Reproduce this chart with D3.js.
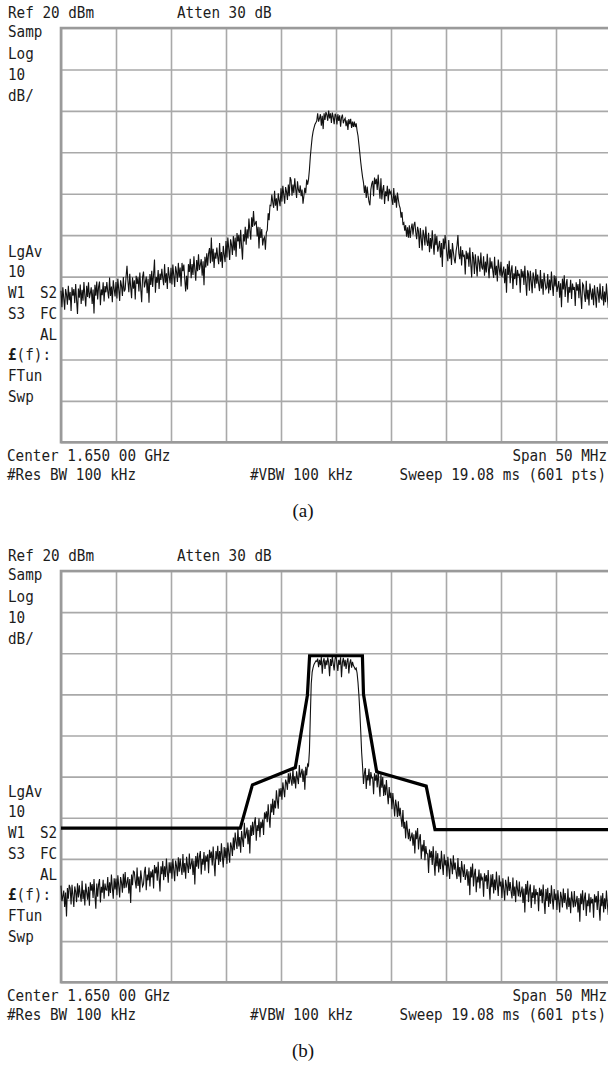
<!DOCTYPE html>
<html><head><meta charset="utf-8">
<script src="https://cdn.jsdelivr.net/npm/d3@7/dist/d3.min.js"></script>
<style>
html,body{margin:0;padding:0;background:#fff;}
svg{display:block;}
.mono{font-family:"DejaVu Sans Mono","Liberation Mono",monospace;font-size:14.3px;fill:#1c1c1c;}
.cap{font-family:"Liberation Serif","Times New Roman",serif;font-size:19px;fill:#111;}
</style>
</head><body>
<script>
// ---------- DATA ----------
const sweepStart = 1625, sweepStop = 1675;           // MHz (Center 1.650 GHz, Span 50 MHz)
const refLevel = 20, bottomLevel = -80;               // dBm, 10 dB/div
const freqTicks = [1625,1630,1635,1640,1645,1650,1655,1660,1665,1670,1675];
const levelTicks = [-80,-70,-60,-50,-40,-30,-20,-10,0,10,20];

// (a) measured spectrum, 601 pts, dBm
const traceA = [
-43.4,-47.4,-42.6,-45.2,-48.0,-43.0,-44.3,-46.8,-42.2,-45.7,
-43.7,-48.3,-42.6,-44.6,-43.0,-46.4,-41.8,-45.7,-49.0,-42.9,
-45.1,-41.9,-46.6,-43.2,-45.8,-41.3,-44.5,-47.2,-42.2,-44.9,
-41.4,-45.2,-44.0,-42.6,-46.6,-43.1,-48.9,-42.0,-44.6,-41.2,
-45.5,-42.5,-41.2,-46.9,-43.1,-44.5,-41.4,-46.0,-42.3,-43.8,
-41.3,-43.6,-45.3,-40.2,-44.7,-42.4,-46.2,-40.9,-43.0,-44.8,
-41.3,-45.3,-40.5,-43.1,-45.9,-40.9,-42.2,-44.7,-40.1,-43.6,
-43.1,-39.9,-37.4,-41.2,-43.8,-39.3,-42.5,-45.2,-40.2,-42.9,
-40.9,-45.5,-39.8,-41.8,-40.2,-43.6,-39.0,-42.9,-46.2,-40.1,
-38.8,-42.6,-41.4,-40.0,-44.0,-40.5,-46.3,-39.4,-42.0,-38.6,
-42.5,-39.5,-35.9,-43.9,-40.1,-41.5,-38.4,-43.0,-39.3,-40.8,
-38.1,-40.4,-42.1,-37.0,-41.5,-39.2,-43.0,-37.7,-39.8,-41.6,
-37.9,-41.9,-37.1,-39.7,-42.5,-37.5,-38.8,-41.3,-36.7,-40.2,
-37.8,-42.4,-36.7,-38.7,-37.1,-40.5,-43.6,-39.8,-43.1,-37.0,
-38.9,-35.7,-40.4,-37.0,-39.6,-35.1,-38.3,-41.0,-36.0,-38.7,
-34.6,-38.4,-37.2,-35.8,-39.8,-36.3,-42.1,-35.2,-37.8,-34.4,
-37.4,-34.4,-33.1,-36.8,-30.6,-36.4,-33.3,-37.9,-34.2,-35.7,
-33.0,-35.3,-37.0,-31.9,-36.4,-34.1,-37.9,-32.6,-34.7,-36.5,
-31.4,-35.4,-30.6,-33.2,-36.0,-31.0,-32.3,-34.8,-30.2,-33.7,
-30.6,-35.2,-29.5,-31.5,-29.9,-33.3,-28.7,-32.6,-35.9,-29.8,
-31.5,-28.0,-32.3,-28.6,-30.8,-26.0,-28.8,-31.1,-25.7,-28.0,
-24.2,-27.7,-27.2,-26.6,-30.3,-28.0,-33.2,-28.1,-30.7,-28.5,
-32.5,-30.9,-30.5,-33.5,-29.4,-28.8,-24.7,-26.4,-22.8,-22.9,
-20.2,-22.1,-23.4,-19.3,-22.9,-21.1,-24.1,-19.9,-21.6,-23.0,
-18.7,-21.9,-18.1,-20.2,-22.4,-18.4,-19.5,-21.5,-17.8,-20.6,
-16.0,-16.7,-20.5,-17.8,-19.9,-16.3,-18.8,-21.0,-17.0,-19.1,
-19.8,-18.0,-20.6,-19.0,-22.4,-20.5,-18.6,-19.9,-16.6,-17.8,
-16.6,-14.2,-11.0,-8.6,-6.4,-5.0,-4.1,-3.3,-2.9,-2.4,
-0.6,-2.6,-1.8,-0.8,-3.6,-1.2,-4.4,-0.6,-2.2,-0.3,
-0.9,-2.4,0.1,-1.8,-0.6,-2.9,-0.4,-1.5,-3.2,-0.7,
-1.2,-3.3,-0.8,-2.4,-1.1,-3.8,-1.6,-0.9,-3.0,-2.2,
-1.8,-3.7,-2.3,-4.6,-2.0,-3.2,-1.9,-4.1,-2.6,-3.9,
-2.6,-3.9,-3.0,-4.8,-6.0,-8.1,-10.2,-12.4,-14.3,-16.0,
-17.3,-19.8,-18.0,-21.0,-18.3,-20.4,-22.0,-22.8,-19.0,-17.6,
-16.9,-20.6,-16.1,-17.7,-16.4,-19.1,-15.4,-18.5,-21.2,-16.3,
-21.4,-19.0,-17.9,-22.5,-19.4,-20.6,-18.1,-21.8,-18.8,-20.0,
-19.5,-21.4,-22.7,-18.6,-22.2,-20.4,-23.4,-19.7,-21.4,-22.8,
-23.5,-25.8,-24.4,-27.3,-27.0,-28.9,-27.6,-30.4,-28.1,-30.6,
-27.6,-30.7,-28.4,-27.2,-29.9,-27.6,-26.8,-29.3,-31.0,-28.0,
-29.1,-33.1,-28.3,-30.9,-33.7,-28.7,-30.0,-32.5,-27.9,-31.4,
-32.6,-29.4,-34.1,-30.7,-33.3,-28.8,-32.0,-34.7,-29.7,-32.4,
-30.2,-34.0,-32.8,-31.4,-35.4,-31.9,-37.7,-30.8,-33.4,-30.0,
-32.3,-34.6,-36.3,-31.2,-35.7,-33.4,-37.2,-31.9,-34.0,-35.8,
-36.8,-33.8,-32.5,-30.0,-34.4,-35.8,-32.7,-37.3,-33.6,-35.1,
-34.9,-39.5,-33.8,-35.8,-34.2,-37.6,-33.0,-36.9,-40.2,-34.1,
-35.4,-39.4,-34.6,-37.2,-40.0,-35.0,-36.3,-38.8,-34.2,-37.7,
-38.3,-35.1,-39.8,-36.4,-39.0,-34.5,-37.7,-40.4,-35.4,-38.1,
-36.3,-38.6,-40.3,-35.2,-39.7,-37.4,-41.2,-35.9,-38.0,-39.8,
-36.4,-40.2,-39.0,-37.6,-41.6,-38.1,-43.9,-37.0,-39.6,-36.2,
-41.6,-38.6,-37.3,-43.0,-39.2,-40.6,-37.5,-42.1,-38.4,-39.9,
-39.3,-43.9,-38.2,-40.2,-38.6,-42.0,-37.4,-41.3,-44.6,-38.5,
-39.4,-43.4,-38.6,-41.2,-44.0,-39.0,-40.3,-42.8,-38.2,-41.7,
-39.5,-41.8,-43.5,-38.4,-42.9,-40.6,-44.4,-39.1,-41.2,-43.0,
-42.6,-39.4,-44.1,-40.7,-43.3,-38.8,-42.0,-44.7,-39.7,-42.4,
-39.9,-43.7,-42.5,-41.1,-45.1,-41.6,-47.4,-40.5,-43.1,-39.7,
-44.9,-41.9,-40.6,-46.3,-42.5,-43.9,-40.8,-45.4,-41.7,-43.2,
-42.5,-47.1,-41.4,-43.4,-41.8,-45.2,-40.6,-44.5,-47.8,-41.7,
-42.1,-44.4,-46.1,-41.0,-45.5,-43.2,-47.0,-41.7,-43.8,-45.6,
-42.9,-46.9,-42.1,-44.7,-47.5,-42.5,-43.8,-46.3,-41.7,-45.2,
-45.5,-42.3,-47.0,-43.6,-46.2,-41.7,-44.9,-47.6,-42.6,-45.3,
-44.0
];

// (b) measured spectrum, 601 pts, dBm
const traceB = [
-56.5,-60.3,-59.1,-57.7,-61.7,-58.2,-64.0,-57.1,-59.7,-56.3,
-57.1,-61.1,-56.3,-58.9,-61.7,-56.7,-58.0,-60.5,-55.9,-59.4,
-56.4,-58.7,-60.4,-55.3,-59.8,-57.5,-61.3,-56.0,-58.1,-59.9,
-56.8,-61.4,-55.7,-57.7,-56.1,-59.5,-54.9,-58.8,-62.1,-56.0,
-59.2,-56.2,-54.9,-60.6,-56.8,-58.2,-55.1,-59.7,-56.0,-57.5,
-57.6,-54.4,-59.1,-55.7,-58.3,-53.8,-57.0,-59.7,-54.7,-57.4,
-54.8,-58.8,-54.0,-56.6,-59.4,-54.4,-55.7,-58.2,-53.6,-57.1,
-53.2,-57.0,-55.8,-54.4,-58.4,-54.9,-60.7,-53.8,-56.4,-53.0,
-53.2,-55.5,-57.2,-52.1,-56.6,-54.3,-58.1,-52.8,-54.9,-56.7,
-56.2,-53.2,-51.9,-57.6,-53.8,-55.2,-52.1,-56.7,-53.0,-54.5,
-52.6,-57.2,-51.5,-53.5,-51.9,-55.3,-50.7,-54.6,-57.9,-51.8,
-53.7,-50.5,-55.2,-51.8,-54.4,-49.9,-53.1,-55.8,-50.8,-53.5,
-50.8,-54.8,-50.0,-52.6,-55.4,-50.4,-51.7,-54.2,-49.6,-53.1,
-49.9,-52.2,-53.9,-48.8,-53.3,-51.0,-54.8,-49.5,-51.6,-53.4,
-48.7,-52.5,-51.3,-49.9,-53.9,-50.4,-56.2,-49.3,-51.9,-48.5,
-52.4,-49.4,-48.1,-53.8,-50.0,-51.4,-48.3,-52.9,-49.2,-50.7,
-48.9,-53.5,-47.8,-49.8,-48.2,-51.6,-47.0,-50.9,-54.2,-48.1,
-50.0,-46.8,-51.5,-48.1,-50.7,-46.2,-49.4,-52.1,-47.1,-49.8,
-47.3,-51.2,-46.0,-48.4,-50.9,-46.0,-47.0,-49.3,-44.8,-47.9,
-43.6,-45.9,-47.6,-42.5,-47.0,-44.7,-48.5,-43.2,-45.3,-47.1,
-41.2,-45.0,-43.8,-42.4,-46.4,-42.9,-48.7,-41.8,-44.4,-41.0,
-44.2,-41.2,-39.9,-45.6,-41.8,-43.2,-40.1,-44.7,-41.0,-42.5,
-40.4,-44.2,-38.7,-40.2,-38.4,-41.1,-36.7,-39.9,-42.4,-36.6,
-38.7,-35.4,-39.3,-35.8,-37.7,-33.3,-35.8,-37.8,-32.9,-34.9,
-32.8,-35.6,-31.4,-33.2,-35.0,-30.7,-31.5,-33.2,-29.2,-31.7,
-29.0,-30.9,-32.2,-28.1,-31.7,-29.9,-32.9,-28.7,-30.4,-31.8,
-27.2,-30.2,-29.2,-28.1,-31.3,-28.5,-33.2,-27.6,-29.7,-27.0,
-27.4,-23.8,-15.2,-7.4,-4.6,-3.5,-2.7,-2.3,-1.9,-2.0,
-1.3,-3.4,-1.6,-2.9,-0.9,-5.0,-2.0,-1.2,-3.8,-1.7,
-2.9,-1.0,-2.3,-5.6,-1.4,-3.1,-0.7,-2.6,-4.2,-1.3,
-0.5,-2.5,-4.3,-1.6,-2.8,-1.0,-5.8,-2.2,-1.1,-3.2,
-1.6,-3.8,-2.0,-1.2,-4.9,-2.4,-1.5,-3.5,-2.1,-3.0,
-3.4,-3.9,-3.6,-4.8,-7.1,-10.2,-14.3,-19.0,-24.2,-27.6,
-31.8,-29.1,-27.9,-33.0,-29.6,-30.9,-28.1,-32.2,-28.9,-30.3,
-30.2,-34.3,-29.2,-31.0,-29.5,-32.6,-28.5,-32.0,-34.9,-29.4,
-32.7,-30.1,-34.7,-31.9,-34.5,-30.8,-34.0,-36.7,-32.5,-35.2,
-33.9,-37.9,-34.0,-36.7,-39.7,-35.6,-37.1,-39.8,-36.0,-39.6,
-37.6,-40.1,-42.2,-38.1,-42.6,-41.0,-45.0,-40.7,-43.1,-45.2,
-42.7,-45.7,-44.7,-43.6,-46.8,-44.0,-48.7,-43.1,-45.2,-42.5,
-47.7,-45.0,-44.0,-50.0,-46.5,-48.2,-45.4,-50.3,-46.9,-48.7,
-48.8,-53.4,-47.7,-49.7,-48.1,-51.5,-46.9,-50.8,-54.1,-48.0,
-51.8,-48.6,-53.3,-49.9,-52.5,-48.0,-51.2,-53.9,-48.9,-51.6,
-50.3,-54.3,-49.5,-52.1,-54.9,-49.9,-51.2,-53.7,-49.1,-52.6,
-50.9,-53.2,-54.9,-49.8,-54.3,-52.0,-55.8,-50.5,-52.6,-54.4,
-51.3,-55.1,-53.9,-52.5,-56.5,-53.0,-58.8,-51.9,-54.5,-51.1,
-56.7,-53.7,-52.4,-58.1,-54.3,-55.7,-52.6,-57.2,-53.5,-55.0,
-54.6,-59.2,-53.5,-55.5,-53.9,-57.3,-52.7,-56.6,-59.9,-53.8,
-56.9,-53.7,-58.4,-55.0,-57.6,-53.1,-56.3,-59.0,-54.0,-56.7,
-55.5,-59.5,-54.7,-57.3,-60.1,-55.1,-56.4,-58.9,-54.3,-57.8,
-55.6,-57.9,-59.6,-54.5,-59.0,-56.7,-60.5,-55.2,-57.3,-59.1,
-55.5,-59.3,-58.1,-56.7,-60.7,-57.2,-63.0,-56.1,-58.7,-55.3,
-60.5,-57.5,-56.2,-61.9,-58.1,-59.5,-56.4,-61.0,-57.3,-58.8,
-58.1,-62.7,-57.0,-59.0,-57.4,-60.8,-56.2,-60.1,-63.4,-57.3,
-60.2,-57.0,-61.7,-58.3,-60.9,-56.4,-59.6,-62.3,-57.3,-60.0,
-58.4,-62.4,-57.6,-60.2,-63.0,-58.0,-59.3,-61.8,-57.2,-60.7,
-58.3,-60.6,-62.3,-57.2,-61.7,-59.4,-63.2,-57.9,-60.0,-61.8,
-57.8,-61.6,-60.4,-59.0,-63.0,-59.5,-65.3,-58.4,-61.0,-57.6,
-62.5,-59.5,-58.2,-63.9,-60.1,-61.5,-58.4,-63.0,-59.3,-60.8,
-59.7,-64.3,-58.6,-60.6,-59.0,-62.4,-57.8,-61.7,-65.0,-58.9,
-61.5,-58.3,-63.0,-59.6,-62.2,-57.7,-60.9,-63.6,-58.6,-61.3,
-60.2
];

// (b) spectrum emission mask (limit line) vertices
const limitFreq  = [1625, 1641.3, 1642.4, 1646.3, 1647.4, 1647.6, 1652.4, 1652.5, 1653.7, 1658.2, 1659.0, 1675];
const limitLevel = [-42.5, -42.5, -32.0, -27.8, -10.2, -0.6, -0.6, -10.0, -28.8, -32.3, -42.9, -42.9];

// annotation texts
const topLeftText = "Ref 20 dBm";
const topMidText = "Atten 30 dB";
const sideTopTexts = ["Samp","Log","10","dB/"];
const bottomLine1 = ["Center 1.650 00 GHz","Span 50 MHz"];
const bottomLine2 = ["#Res BW 100 kHz","#VBW 100 kHz","Sweep 19.08 ms (601 pts)"];
const captions = ["(a)","(b)"];

// ---------- DRAWING ----------
const W = 608, H = 1071;
const svg = d3.select("body").append("svg").attr("width", W).attr("height", H);

const plotLeft = 61, plotRight = 611;
const x = d3.scaleLinear().domain([sweepStart, sweepStop]).range([plotLeft, plotRight]);
const idx = d3.scaleLinear().domain([0, 600]).range([sweepStart, sweepStop]);

const panels = [
  {top: 28,  bottom: 442.3, trace: traceA, limit: false, caption: captions[0]},
  {top: 571, bottom: 982.3, trace: traceB, limit: true,  caption: captions[1]}
];

function monoText(g, str, tx, ty, anchor) {
  return g.append("text").attr("class","mono")
    .attr("transform", `translate(${tx},${ty}) scale(1,1.1)`)
    .attr("text-anchor", anchor || "start")
    .text(str);
}

panels.forEach(p => {
  const y = d3.scaleLinear().domain([bottomLevel, refLevel]).range([p.bottom, p.top]);
  const g = svg.append("g");

  // grid via axes
  const gx = g.append("g").attr("transform", `translate(0,${p.bottom})`)
    .call(d3.axisBottom(x).tickValues(freqTicks).tickSize(-(p.bottom - p.top)).tickFormat(""));
  const gy = g.append("g").attr("transform", `translate(${plotLeft},0)`)
    .call(d3.axisLeft(y).tickValues(levelTicks).tickSize(-(plotRight - plotLeft)).tickFormat(""));
  [gx, gy].forEach(a => {
    a.select(".domain").remove();
    a.selectAll(".tick line").attr("stroke", "#a9a9a9").attr("stroke-width", 1.6);
  });
  // frame (left, top, bottom)
  g.append("path")
    .attr("d", `M${plotRight},${y(refLevel)}H${x(sweepStart)}V${y(bottomLevel)}H${plotRight}`)
    .attr("fill","none").attr("stroke","#9a9a9a").attr("stroke-width", 2.6);

  // trace
  const line = d3.line().x((d,i) => x(idx(i))).y(d => y(d));
  g.append("path").datum(p.trace)
    .attr("d", line).attr("fill","none").attr("stroke","#111").attr("stroke-width",1.1)
    .attr("stroke-linejoin","miter");

  if (p.limit) {
    const lim = d3.line().x(d => x(d[0])).y(d => y(d[1]));
    g.append("path").datum(d3.zip(limitFreq, limitLevel))
      .attr("d", lim).attr("fill","none").attr("stroke","#000").attr("stroke-width",3.2)
      .attr("stroke-linejoin","miter");
  }

  // annotations
  monoText(g, topLeftText, 8, p.top - 10);
  monoText(g, topMidText, 177, p.top - 10);
  const topOff = [9, 31, 52, 73];
  sideTopTexts.forEach((t,i) => monoText(g, t, 8, p.top + topOff[i]));
  const b = p.bottom;
  monoText(g, "LgAv", 8, b - 185.6);
  monoText(g, "10", 8, b - 164.9);
  monoText(g, "W1", 8, b - 144.2);
  monoText(g, "S2", 40, b - 144.2);
  monoText(g, "S3", 8, b - 123.5);
  monoText(g, "FC", 40, b - 123.5);
  monoText(g, "AL", 40, b - 102.8);
  const lf = g.append("text").attr("class","mono")
    .attr("transform", `translate(8,${b - 82.1}) scale(1,1.1)`);
  lf.append("tspan").attr("font-weight","bold").text("£");
  lf.append("tspan").text("(f):");
  monoText(g, "FTun", 8, b - 61.4);
  monoText(g, "Swp", 8, b - 40.7);

  monoText(g, bottomLine1[0], 7, b + 19);
  monoText(g, bottomLine1[1], 607, b + 19, "end");
  monoText(g, bottomLine2[0], 7, b + 38);
  monoText(g, bottomLine2[1], 250, b + 38);
  monoText(g, bottomLine2[2], 606, b + 38, "end");

  g.append("text").attr("class","cap").attr("x", 303).attr("y", b + 75)
    .attr("text-anchor","middle").text(p.caption);
});
</script>
</body></html>
